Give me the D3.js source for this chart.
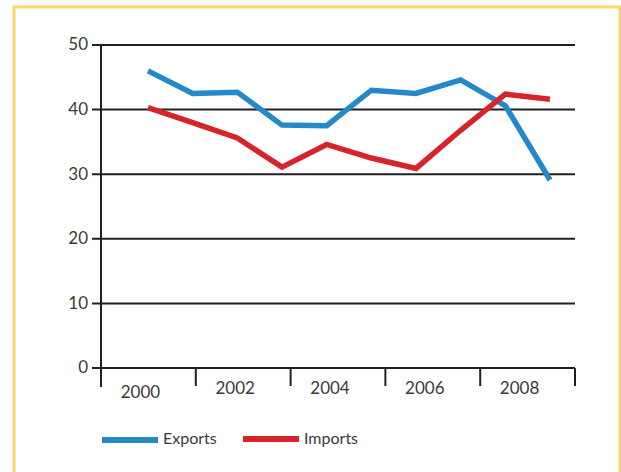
<!DOCTYPE html>
<html>
<head>
<meta charset="utf-8">
<script src="https://cdn.jsdelivr.net/npm/d3@7"></script>
<style>
  body { margin: 0; background: #fff; }
  svg text { font-family: Lato, "DejaVu Sans", sans-serif; font-weight: 400; fill: #3a3a3a; }
</style>
</head>
<body>
<svg id="chart"></svg>
<script>
const width = 621, height = 472;

const years = [2000, 2001, 2002, 2003, 2004, 2005, 2006, 2007, 2008, 2009];
const exportsData = [46.0, 42.5, 42.7, 37.6, 37.5, 43.0, 42.5, 44.6, 40.6, 29.1];
const importsData = [40.3, 38.0, 35.6, 31.1, 34.6, 32.5, 30.9, 36.8, 42.4, 41.6];
const xLabels = ["2000", "2002", "2004", "2006", "2008"];
const yTicks = [0, 10, 20, 30, 40, 50];
const seriesNames = ["Exports", "Imports"];
const colors = ["#2389cb", "#d7242b"];

const svg = d3.select("#chart")
              .attr("width", width)
              .attr("height", height);

// yellow frame (bottom runs off the page)
svg.append("rect")
   .attr("x", 14).attr("y", 7)
   .attr("width", 606).attr("height", 480)
   .attr("fill", "none")
   .attr("stroke", "#ffd46e")
   .attr("stroke-width", 3);

const y = d3.scaleLinear().domain([0, 50]).range([368, 45]);
const x = d3.scalePoint().domain(years).range([148, 550]);
const band = d3.scaleBand().domain(xLabels).range([101, 575]);

// horizontal grid + left ticks
svg.append("g")
   .selectAll("line")
   .data(yTicks)
   .join("line")
   .attr("x1", 92).attr("x2", 575)
   .attr("y1", d => y(d)).attr("y2", d => y(d))
   .attr("stroke", "#231f20")
   .attr("stroke-width", 2);

svg.append("g")
   .selectAll("text")
   .data(yTicks)
   .join("text")
   .attr("x", 88)
   .attr("y", d => y(d) + 1)
   .attr("text-anchor", "end")
   .attr("dominant-baseline", "middle")
   .style("font-size", "17px")
   .text(d => d);

// y axis line
svg.append("line")
   .attr("x1", 101).attr("x2", 101)
   .attr("y1", y(50)).attr("y2", 387)
   .attr("stroke", "#231f20")
   .attr("stroke-width", 2);

// x ticks at band edges
const edges = xLabels.map(d => band(d)).concat([band.range()[1]]);
svg.append("g")
   .selectAll("line")
   .data(edges)
   .join("line")
   .attr("x1", d => d).attr("x2", d => d)
   .attr("y1", y(0)).attr("y2", 386)
   .attr("stroke", "#231f20")
   .attr("stroke-width", 2);

svg.append("g")
   .selectAll("text")
   .data(xLabels)
   .join("text")
   .attr("x", d => band(d) + band.bandwidth() / 2 - 8)
   .attr("y", (d, i) => i ? 390 : 394)
   .attr("text-anchor", "middle")
   .attr("dominant-baseline", "middle")
   .style("font-size", "17px")
   .text(d => d);

// lines
const line = d3.line()
               .x((d, i) => x(years[i]))
               .y(d => y(d));

[exportsData, importsData].forEach((series, i) => {
    svg.append("path")
       .datum(series)
       .attr("d", line)
       .attr("fill", "none")
       .attr("stroke", colors[i])
       .attr("stroke-width", 5.5)
       .attr("stroke-linejoin", "miter");
});

// legend
const legend = svg.append("g")
                  .selectAll("g")
                  .data(seriesNames)
                  .join("g")
                  .attr("transform", (d, i) => `translate(${102 + i * 141},440)`);

legend.append("rect")
      .attr("x", 0).attr("y", (d, i) => i ? -4 : -3)
      .attr("width", 56).attr("height", 6)
      .attr("fill", (d, i) => colors[i]);

legend.append("text")
      .attr("x", 61)
      .attr("y", 0)
      .attr("dominant-baseline", "middle")
      .style("font-size", "16px")
      .text(d => d);
</script>
</body>
</html>
